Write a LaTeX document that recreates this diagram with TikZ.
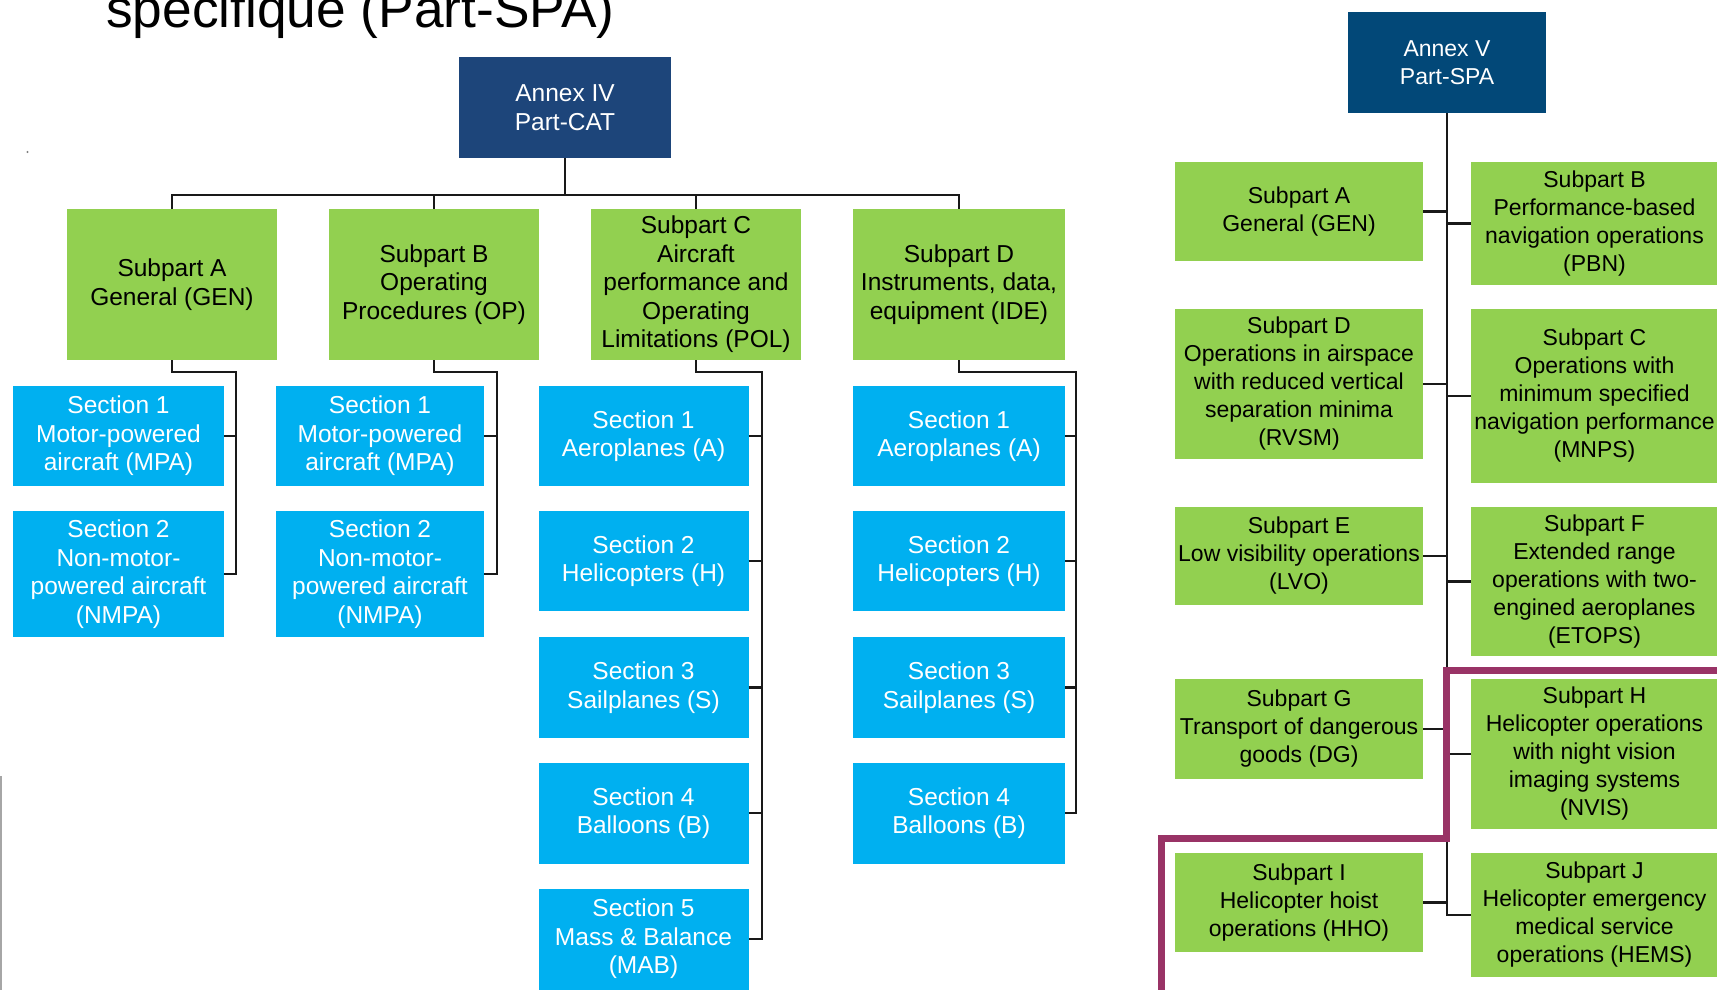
\documentclass[tikz,border=0pt]{standalone}
\usepackage{fontspec}
\setmainfont{Liberation Sans}
\definecolor{cgreen}{HTML}{92D050}
\definecolor{ccyan}{HTML}{00B0F0}
\definecolor{navyA}{HTML}{1D457A}
\definecolor{navyB}{HTML}{024878}
\definecolor{cpurple}{HTML}{993366}
\begin{document}
\begin{tikzpicture}[x=1pt,y=-1pt,
  boxbase/.style={inner sep=0pt, outer sep=0pt, align=center, anchor=center},
  lfont/.style={font=\fontsize{24.5}{28.5}\selectfont},
  rfont/.style={font=\fontsize{23}{28}\selectfont},
  annexA/.style={boxbase, fill=navyA, text=white, lfont},
  annexB/.style={boxbase, fill=navyB, text=white, rfont},
  gbox/.style={boxbase, fill=cgreen, text=black},
  sbox/.style={boxbase, fill=ccyan, text=white, lfont},
  conn/.style={line width=2.6pt, draw=black!90},
]
\useasboundingbox (0,0) rectangle (1717,989);
\fill[white] (0,0) rectangle (1717,989);

% title fragment (cut off at the top edge, as in the reference)
\node[anchor=base west, inner sep=0pt, font=\fontsize{53.3}{60}\selectfont] (title) at (106,27) {specifique (Part-SPA)};
\fill[gray] (27.5,152) circle (1.2pt);
\draw[gray!70, line width=1.5pt] (1.2,776) -- (1.2,995);

% ===== Annex IV tree =====
\node[annexA, minimum width=212pt, minimum height=101pt] (a4) at (565,107.5) {Annex IV\\Part-CAT};

\node[gbox, lfont, minimum width=210pt, minimum height=151pt] (gA) at (172,284.5) {Subpart A\\General (GEN)};
\node[gbox, lfont, minimum width=210pt, minimum height=151pt] (gB) at (434,284.5) {Subpart B\\Operating\\Procedures (OP)};
\node[gbox, lfont, minimum width=210pt, minimum height=151pt] (gC) at (696,284.5) {Subpart C\\Aircraft\\performance and\\Operating\\Limitations (POL)};
\node[gbox, lfont, minimum width=212pt, minimum height=151pt] (gD) at (959,284.5) {Subpart D\\Instruments, data,\\equipment (IDE)};

\node[sbox, minimum width=211pt, minimum height=100pt] (sA1) at (118.5,436) {Section 1\\Motor-powered\\aircraft (MPA)};
\node[sbox, minimum width=211pt, minimum height=126pt] (sA2) at (118.5,574) {Section 2\\Non-motor-\\powered aircraft\\(NMPA)};
\node[sbox, minimum width=208pt, minimum height=100pt] (sB1) at (380,436) {Section 1\\Motor-powered\\aircraft (MPA)};
\node[sbox, minimum width=208pt, minimum height=126pt] (sB2) at (380,574) {Section 2\\Non-motor-\\powered aircraft\\(NMPA)};

\node[sbox, minimum width=210pt, minimum height=100pt] (sC1) at (643.5,436) {Section 1\\Aeroplanes (A)};
\node[sbox, minimum width=210pt, minimum height=100pt] (sC2) at (643.5,561) {Section 2\\Helicopters (H)};
\node[sbox, minimum width=210pt, minimum height=101pt] (sC3) at (643.5,687.5) {Section 3\\Sailplanes (S)};
\node[sbox, minimum width=210pt, minimum height=101pt] (sC4) at (643.5,813) {Section 4\\Balloons (B)};
\node[sbox, minimum width=210pt, minimum height=101pt] (sC5) at (643.5,939) {Section 5\\Mass \& Balance\\(MAB)};

\node[sbox, minimum width=212pt, minimum height=100pt] (sD1) at (959,436) {Section 1\\Aeroplanes (A)};
\node[sbox, minimum width=212pt, minimum height=100pt] (sD2) at (959,561) {Section 2\\Helicopters (H)};
\node[sbox, minimum width=212pt, minimum height=101pt] (sD3) at (959,687.5) {Section 3\\Sailplanes (S)};
\node[sbox, minimum width=212pt, minimum height=101pt] (sD4) at (959,813) {Section 4\\Balloons (B)};

\draw[conn] (a4.south) -- ++(0,37);
\draw[conn] (gA.north) -- ++(0,-14) -| (gD.north);
\draw[conn] (gB.north) -- ++(0,-14);
\draw[conn] (gC.north) -- ++(0,-14);

\coordinate (jA) at (236,372);
\coordinate (jB) at (497,372);
\coordinate (jC) at (762,372);
\coordinate (jD) at (1076,372);

\draw[conn] (gA.south) |- (jA) -- (jA |- sA2.east) -- (sA2.east);
\draw[conn] (sA1.east) -- (jA |- sA1.east);
\draw[conn] (gB.south) |- (jB) -- (jB |- sB2.east) -- (sB2.east);
\draw[conn] (sB1.east) -- (jB |- sB1.east);
\draw[conn] (gC.south) |- (jC) -- (jC |- sC5.east) -- (sC5.east);
\foreach \n in {sC1,sC2,sC3,sC4} \draw[conn] (\n.east) -- (jC |- \n.east);
\draw[conn] (gD.south) |- (jD) -- (jD |- sD4.east) -- (sD4.east);
\foreach \n in {sD1,sD2,sD3} \draw[conn] (\n.east) -- (jD |- \n.east);

% ===== Annex V tree =====
\node[annexB, minimum width=198pt, minimum height=101pt] (a5) at (1447,62.5) {Annex V\\Part-SPA};

\node[gbox, rfont, minimum width=248pt, minimum height=99pt] (rA) at (1299,211.5) {Subpart A\\General (GEN)};
\node[gbox, rfont, minimum width=247pt, minimum height=123pt] (rB) at (1594.5,223.5) {Subpart B\\Performance-based\\navigation operations\\(PBN)};
\node[gbox, rfont, minimum width=248pt, minimum height=150pt] (rD) at (1299,384) {Subpart D\\Operations in airspace\\with reduced vertical\\separation minima\\(RVSM)};
\node[gbox, rfont, minimum width=247pt, minimum height=174pt] (rC) at (1594.5,396) {Subpart C\\Operations with\\minimum specified\\navigation performance\\(MNPS)};
\node[gbox, rfont, minimum width=248pt, minimum height=98pt] (rE) at (1299,556) {Subpart E\\Low visibility operations\\(LVO)};
\node[gbox, rfont, minimum width=247pt, minimum height=149pt] (rF) at (1594.5,581.5) {Subpart F\\Extended range\\operations with two-\\engined aeroplanes\\(ETOPS)};
\node[gbox, rfont, minimum width=248pt, minimum height=100pt] (rG) at (1299,729) {Subpart G\\Transport of dangerous\\goods (DG)};
\node[gbox, rfont, minimum width=247pt, minimum height=150pt] (rH) at (1594.5,754) {Subpart H\\Helicopter operations\\with night vision\\imaging systems\\(NVIS)};
\node[gbox, rfont, minimum width=248pt, minimum height=99pt] (rI) at (1299,902.5) {Subpart I\\Helicopter hoist\\operations (HHO)};
\node[gbox, rfont, minimum width=247pt, minimum height=124pt] (rJ) at (1594.5,915) {Subpart J\\Helicopter emergency\\medical service\\operations (HEMS)};

\draw[conn] (a5.south) -- (a5.south |- rJ.west) -- (rJ.west);
\foreach \n in {rA,rD,rE,rG,rI} \draw[conn] (\n.east) -- (a5.south |- \n.east);
\foreach \n in {rB,rC,rF,rH} \draw[conn] (\n.west) -- (a5.south |- \n.west);

% purple frame
\draw[cpurple, line width=7pt] (1725,670) -- (1446.5,670) -- (1446.5,838.5) -- (1161,838.5) -- (1161,1000);
\end{tikzpicture}
\end{document}
